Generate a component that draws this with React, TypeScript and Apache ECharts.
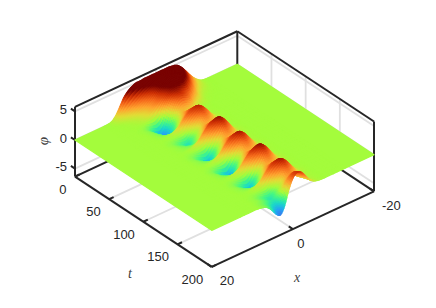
import React, { useEffect, useRef } from "react";
import * as echarts from "echarts";

const xGrid = [-13,-12,-11,-10,-9,-8,-7,-6,-5,-4,-3,-2,-1,0,1,2,3,4,5,6,7,8,9,10,11,12,13];
const tGrid = [0,5,10,15,20,25,30,35,40,45,50,55,60,65,70,75,80,85,90,95,100,105,110,115,120,125,130,135,140,145,150,155,160,165,170,175,180,185,190,195,200];
// t = 0..35, x = -13..13
const humpRows = [
[0,.03,.2,.7,1.4,2.3,3.3,4.2,4.8,5,5.1,5.1,5.1,5.1,5.1,5.1,5.1,5,5,4.7,4.2,3.4,2.1,.9,.2,.02,0],
[0,.02,.15,.5,1,1.9,2.9,3.9,4.6,4.9,5.1,5.1,5.1,5.1,4.8,4.5,4.1,3.8,3.3,2.8,2.2,1.6,1,.5,.15,.02,0],
[0,.01,.08,.3,.6,1.3,2.2,3.4,4.3,4.8,5,5.1,5.1,4.9,4.4,3.8,3.2,2.6,2,1.5,1,.6,.3,.1,.03,0,0],
[0,0,.03,.12,.3,.7,1.4,2.5,3.6,4.4,4.9,5,5,4.6,4,3.3,2.4,1.8,1.2,.8,.4,.2,.08,.03,0,0,0],
[0,0,.01,.04,.1,.3,.8,1.6,2.5,3.4,4.1,4.3,4.2,4,3.4,2.7,2,1.3,.8,.45,.2,.08,.03,.01,0,0,0],
[0,0,0,.01,.04,.1,.4,.9,1.5,2.4,3,3.4,3.6,3.4,2.8,1.6,.1,-.6,-.6,-.3,-.1,-.03,0,0,0,0,0],
[0,0,0,0,.01,.05,.15,.35,.75,1.3,2.2,2.7,2.9,2.4,1,-.8,-2.3,-2.6,-1.8,-1,-.4,-.1,-.03,0,0,0,0],
[0,0,0,0,0,0,.05,.1,.25,.5,1.1,1.5,1.6,1.2,-.1,-1.4,-2.4,-2.3,-1.5,-.8,-.3,-.1,-.02,0,0,0,0],
];
// t = 40..200, x = -7..8 (zero outside)
const pulseRows = [
[.01,.04,.12,.32,.6,.84,1.1,1.4,.34,-.68,-1.72,-1.6,-1.06,-.62,-.24,-.08],
[.01,.05,.15,.4,.7,1,1.26,1.98,1.14,.22,-.75,-.85,-.63,-.4,-.17,-.06],
[.02,.09,.27,.72,1.32,1.86,2.5,2.7,2.1,1.3,.43,.05,-.13,-.13,-.08,-.03],
[.04,.14,.43,1.14,2.09,2.95,3.42,3.14,2.75,2.1,1.33,.76,.28,.1,0,0],
[.03,.12,.36,.97,1.78,2.51,2.91,2.3,1.6,.76,0,-.22,-.2,-.14,-.07,-.02],
[.02,.09,.27,.7,1.29,1.82,2.12,1,.1,-.6,-1.4,-1.2,-.77,-.44,-.17,-.06],
[.02,.07,.19,.51,.94,1.33,1.54,1.38,.5,-.3,-.95,-.88,-.58,-.34,-.13,-.04],
[.01,.05,.15,.4,.73,1.04,1.3,2,1.2,.3,-.4,-.47,-.35,-.22,-.09,-.03],
[.02,.09,.27,.72,1.32,1.86,2.6,2.8,2.2,1.35,.5,.1,-.1,-.1,-.06,-.02],
[.04,.16,.47,1.26,2.31,3.26,3.78,3.45,3.05,2.3,1.47,.84,.32,.1,0,0],
[.03,.14,.4,1.07,1.96,2.77,3.21,2.45,1.7,.76,-.13,-.32,-.3,-.2,-.1,-.03],
[.02,.09,.29,.78,1.43,2.02,2.34,.95,-.1,-1.1,-2,-1.76,-1.12,-.64,-.24,-.08],
[.02,.07,.21,.57,1.04,1.47,1.7,1.4,.4,-.55,-1.38,-1.28,-.85,-.5,-.19,-.06],
[.01,.05,.17,.44,.81,1.14,1.32,2,1.15,.2,-.6,-.68,-.5,-.32,-.14,-.05],
[.02,.09,.27,.72,1.32,1.86,2.6,2.75,2.15,1.3,.43,.05,-.13,-.13,-.08,-.03],
[.04,.15,.45,1.2,2.2,3.1,3.6,3.3,2.9,2.2,1.4,.8,.3,.1,0,0],
[.03,.13,.38,1.02,1.87,2.64,3.06,2.34,1.62,.76,-.16,-.4,-.38,-.26,-.12,-.04],
[.02,.09,.28,.74,1.36,1.92,2.23,.9,-.3,-1.4,-2.5,-2.2,-1.4,-.8,-.3,-.1],
[.02,.07,.2,.54,.99,1.4,1.62,1.38,.34,-.68,-1.72,-1.6,-1.06,-.62,-.24,-.08],
[.01,.05,.16,.42,.77,1.09,1.26,1.98,1.14,.22,-.75,-.85,-.63,-.4,-.17,-.06],
[.02,.09,.27,.72,1.32,1.86,2.6,2.7,2.1,1.3,.43,.05,-.13,-.13,-.08,-.03],
[.04,.16,.47,1.26,2.31,3.26,3.78,3.45,3.05,2.3,1.47,.84,.32,.1,0,0],
[.03,.14,.4,1.07,1.96,2.77,3.21,2.45,1.7,.76,-.13,-.32,-.3,-.2,-.1,-.03],
[.02,.09,.29,.78,1.43,2.02,2.34,.95,-.1,-1.1,-2,-1.76,-1.12,-.64,-.24,-.08],
[.02,.07,.21,.57,1.04,1.47,1.7,1.4,.4,-.55,-1.38,-1.28,-.85,-.5,-.19,-.06],
[.01,.05,.17,.44,.81,1.14,1.32,2,1.15,.2,-.6,-.68,-.5,-.32,-.14,-.05],
[.02,.09,.27,.72,1.32,1.86,2.6,2.8,2.2,1.35,.5,.1,-.1,-.1,-.06,-.02],
[.04,.15,.45,1.2,2.2,3.1,3.6,3.3,2.9,2.2,1.4,.8,.3,.1,0,0],
[.03,.13,.38,1.02,1.87,2.64,3.06,2.34,1.62,.76,-.08,-.2,-.19,-.13,-.06,-.02],
[.02,.09,.28,.74,1.36,1.92,2.23,1,.2,-.6,-1.25,-1.1,-.7,-.4,-.15,-.05],
[.02,.07,.22,.6,1.1,1.6,1.9,1.4,.5,-.4,-1.2,-1.1,-.7,-.4,-.15,-.05],
[.02,.1,.3,.8,1.5,2.3,2.8,2.3,1.2,-.6,-2,-1.8,-1.1,-.6,-.3,-.1],
[.03,.12,.4,1,2,2.9,3.2,2.5,.8,-1.6,-2.9,-2.5,-1.5,-.7,-.3,-.1],
];
const tTicks = [0, 50, 100, 150, 200];
const xTicks = [-20, 0, 20];
const zTicks = [-5, 0, 5];
const xLimits = [-20, 20];
const tLimits = [0, 200];
const zLimits = [-6.4, 5.8];
const colorLimit = 4;

const turboStops = [
  [48,18,59],[70,107,227],[38,161,246],[28,218,199],[72,248,130],[164,252,60],
  [225,221,55],[254,165,49],[245,106,28],[205,48,5],[122,4,3],
];
const turbo = (phi: number) => {
  const f = Math.min(1, Math.max(0, phi / (2 * colorLimit) + 0.5)) * 10;
  const i = Math.min(9, Math.floor(f));
  const c = turboStops[i].map((v, k) => Math.round(v + (turboStops[i + 1][k] - v) * (f - i)));
  return `rgb(${c[0]},${c[1]},${c[2]})`;
};

const phiGrid: number[][] = [
  ...humpRows,
  ...pulseRows.map((r) => [0,0,0,0,0,0, ...r, 0,0,0,0,0]),
];

// view projection of the MATLAB axes box
const project = (x: number, t: number, z: number) => {
  const u = (20 - x) / 40;
  const v = t / 200;
  return [75 + 162.3 * u + 136.7 * v, 140 - 75.6 * u + 90.3 * v - 5.72 * z];
};

const cr = (a: number, b: number, c: number, d: number, f: number) =>
  0.5 * (2 * b + (c - a) * f + (2 * a - 5 * b + 4 * c - d) * f * f + (3 * b - a - 3 * c + d) * f * f * f);
const rowsN = tGrid.length, colsN = xGrid.length;
const clampI = (i: number, n: number) => Math.max(0, Math.min(n - 1, i));
const surf = (j: number, fj: number, i: number, fi: number) => {
  const rowAt = (r: number) => {
    const row = phiGrid[clampI(r, rowsN)];
    return cr(row[clampI(i - 1, colsN)], row[i], row[clampI(i + 1, colsN)], row[clampI(i + 2, colsN)], fi);
  };
  return cr(rowAt(j - 1), rowAt(j), rowAt(j + 1), rowAt(j + 2), fj);
};

type Cell = { pts: number[][]; phi: number };
const cells: Cell[] = [];
const flat = (x0: number, x1: number, t0: number, t1: number) => ({
  pts: [project(x0, t0, 0), project(x1, t0, 0), project(x1, t1, 0), project(x0, t1, 0)],
  phi: 0,
});
cells.push(flat(xLimits[0], xGrid[0], tLimits[0], tLimits[1]));
const subT = 4, subX = 4;
for (let j = 0; j < rowsN - 1; j++) {
  for (let a = 0; a < subT; a++) {
    for (let i = 0; i < colsN - 1; i++) {
      const corners = [phiGrid[j][i], phiGrid[j][i + 1], phiGrid[j + 1][i], phiGrid[j + 1][i + 1]];
      if (corners.every((c) => c === 0)) {
        if (a === 0) cells.push(flat(xGrid[i], xGrid[i + 1], tGrid[j], tGrid[j + 1]));
        continue;
      }
      for (let b = 0; b < subX; b++) {
        const pt = (aa: number, bb: number) => {
          const fj = aa / subT, fi = bb / subX;
          const z = surf(j, fj, i, fi);
          return { p: project(xGrid[i] + fi * (xGrid[i + 1] - xGrid[i]), tGrid[j] + fj * (tGrid[j + 1] - tGrid[j]), z), z };
        };
        const q = [pt(a, b), pt(a, b + 1), pt(a + 1, b + 1), pt(a + 1, b)];
        cells.push({ pts: q.map((e) => e.p), phi: (q[0].z + q[1].z + q[2].z + q[3].z) / 4 });
      }
    }
  }
}
cells.push(flat(xGrid[colsN - 1], xLimits[1], tLimits[0], tLimits[1]));

const [xL, xH] = xLimits, [tL, tH] = tLimits, [zL, zH] = zLimits;
type Seg = { a: number[]; b: number[]; kind: string };
const segs: Seg[] = [];
const seg = (a: number[], b: number[], kind: string) => segs.push({ a, b, kind });
// grid on the walls and the floor
zTicks.forEach((z) => {
  seg(project(xH, tL, z), project(xL, tL, z), "grid");
  seg(project(xL, tL, z), project(xL, tH, z), "grid");
});
tTicks.slice(1, -1).forEach((t) => {
  seg(project(xL, t, zL), project(xL, t, zH), "grid");
  seg(project(xH, t, zL), project(xL, t, zL), "grid");
});
seg(project(0, tL, zL), project(0, tL, zH), "grid");
seg(project(0, tL, zL), project(0, tH, zL), "grid");
// box
seg(project(xH, tL, zL), project(xH, tL, zH), "box");
seg(project(xL, tL, zL), project(xL, tL, zH), "box");
seg(project(xL, tH, zL), project(xL, tH, zH), "box");
seg(project(xH, tL, zH), project(xL, tL, zH), "box");
seg(project(xL, tL, zH), project(xL, tH, zH), "box");
seg(project(xH, tL, zL), project(xL, tL, zL), "box");
seg(project(xL, tL, zL), project(xL, tH, zL), "box");
seg(project(xH, tL, zL), project(xH, tH, zL), "box");
seg(project(xH, tH, zL), project(xL, tH, zL), "box");
// ticks
tTicks.forEach((t) => seg(project(xH, t, zL), project(xH - 1.1, t, zL), "box"));
xTicks.forEach((x) => seg(project(x, tH, zL), project(x, tH - 6, zL), "box"));
zTicks.forEach((z) => seg(project(xH, tL, z), project(xH, tL - 6, z), "box"));

type Label = { text: string; x: number; y: number; align: string; font: string; fill: string; rot?: number };
const labels: Label[] = [];
const tickFont = '13px "Liberation Sans", Arial, sans-serif';
const nameFont = 'italic 14px "Liberation Serif", serif';
tTicks.forEach((t) => {
  const p = project(xH, t, zL);
  labels.push({ text: String(t), x: p[0] - 8.5, y: p[1] + 12.5, align: "right", font: tickFont, fill: "#262626" });
});
xTicks.forEach((x) => {
  const p = project(x, tH, zL);
  labels.push({ text: String(x), x: p[0] + (x === 0 ? 4.5 : 8), y: p[1] + 14, align: "left", font: tickFont, fill: "#262626" });
});
zTicks.forEach((z) => {
  const p = project(xH, tL, z);
  labels.push({ text: String(z), x: p[0] - 8, y: p[1] - 2, align: "right", font: tickFont, fill: "#262626" });
});
labels.push({ text: "t", x: 130, y: 273, align: "center", font: nameFont, fill: "#404040" });
labels.push({ text: "x", x: 297, y: 277, align: "center", font: nameFont, fill: "#404040" });
labels.push({ text: "\u03C6", x: 43, y: 141, align: "center", font: 'italic 15px "Liberation Serif", serif', fill: "#404040", rot: Math.PI / 2 });

export default function App() {
  const ref = useRef<HTMLDivElement>(null);
  useEffect(() => {
    document.body.style.margin = "0";
    const chart = echarts.init(ref.current!, undefined, { renderer: "svg" });
    const hidden = { type: "value", show: false };
    chart.setOption({
      animation: false,
      backgroundColor: "#ffffff",
      grid: { left: 0, right: 0, top: 0, bottom: 0 },
      xAxis: { ...hidden, min: 0, max: 436 },
      yAxis: { ...hidden, min: 0, max: 308, inverse: true },
      series: [
        {
          type: "custom", silent: true, clip: false, z: 1,
          data: segs.filter((s) => s.kind === "grid").map((_, i) => [i, 0]),
          renderItem: (_p: any, api: any) => {
            const s = segs.filter((e) => e.kind === "grid")[api.value(0)];
            const a = api.coord(s.a), b = api.coord(s.b);
            return { type: "line", shape: { x1: a[0], y1: a[1], x2: b[0], y2: b[1] }, style: { stroke: "#e0e0e0", lineWidth: 1.8 } };
          },
        },
        {
          type: "custom", silent: true, clip: false, z: 2,
          data: segs.filter((s) => s.kind === "box").map((_, i) => [i, 0]),
          renderItem: (_p: any, api: any) => {
            const s = segs.filter((e) => e.kind === "box")[api.value(0)];
            const a = api.coord(s.a), b = api.coord(s.b);
            return { type: "line", shape: { x1: a[0], y1: a[1], x2: b[0], y2: b[1] }, style: { stroke: "#262626", lineWidth: 2 } };
          },
        },
        {
          type: "custom", silent: true, clip: false, z: 3, progressive: 0,
          data: cells.map((_, i) => [i, 0]),
          renderItem: (_p: any, api: any) => {
            const c = cells[api.value(0)];
            const fill = turbo(c.phi);
            return { type: "polygon", shape: { points: c.pts.map((p) => api.coord(p)) }, style: { fill, stroke: fill, lineWidth: 1.3, lineJoin: "round" } };
          },
        },
        {
          type: "custom", silent: true, clip: false, z: 4,
          data: labels.map((_, i) => [i, 0]),
          renderItem: (_p: any, api: any) => {
            const l = labels[api.value(0)];
            const p = api.coord([l.x, l.y]);
            return {
              type: "text", x: p[0], y: p[1], rotation: l.rot || 0,
              style: { text: l.text, font: l.font, fill: l.fill, align: l.align, verticalAlign: "middle" },
            };
          },
        },
      ],
    });
    return () => chart.dispose();
  }, []);
  return <div ref={ref} style={{ position: "absolute", left: 0, top: 0, width: 436, height: 308 }} />;
}
